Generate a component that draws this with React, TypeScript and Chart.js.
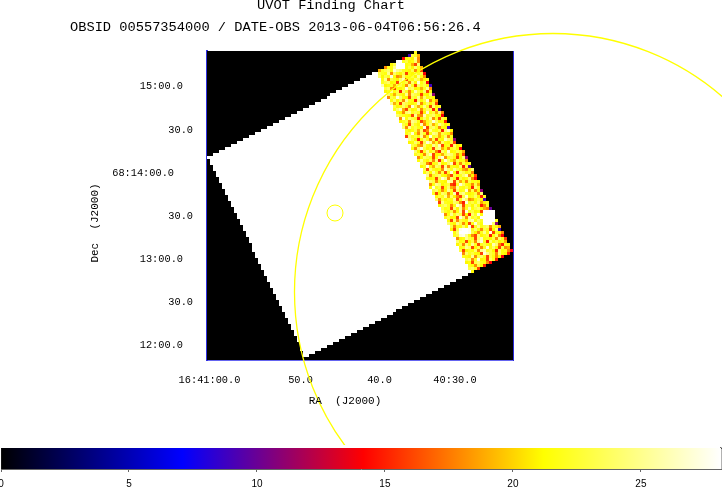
import React, { useEffect, useRef } from "react";
import { Chart, registerables } from "chart.js";

Chart.register(...registerables);

// ---- data ----
const titleLine1 = "UVOT Finding Chart";
const titleLine2 = "OBSID 00557354000 / DATE-OBS 2013-06-04T06:56:26.4";
const raTitle = "RA  (J2000)";
const decTitle = "Dec  (J2000)";

const nCols = 102;
const nRows = 103;

const raLabels = ["16:41:00.0", "50.0", "40.0", "40:30.0"];
const raTickCols = [0.75, 31, 57.5, 83];
const decLabels = ["15:00.0", "30.0", "68:14:00.0", "30.0", "13:00.0", "30.0", "12:00.0"];
const decTickRows = [11.67, 26.33, 40.67, 55, 69.33, 83.67, 98];

const circleCols = [42.67, 115.33];
const circleRows = [54, 80.33];

const colorbarTicks = [0, 5, 10, 15, 20, 25];
const colorbarMax = 28.13;
const colorStopValues = [0, 7.08, 14.15, 21.2, 28.13];
const colorStopRgb = [
  [0, 0, 0],
  [0, 0, 255],
  [255, 0, 0],
  [255, 255, 0],
  [255, 255, 255],
];

// Saturated exposure region, one entry per image row starting at row 7
const whiteFirstRow = 7;
const whiteStart = [
  55, 53, 51, 49, 47, 45, 43, 41, 40, 38, 36, 34, 32, 30, 28, 26, 24, 22, 20, 18, 16, 14, 12, 10, 8, 6, 4, 2,
  0, 1, 1, 2, 2, 3, 3, 4, 4, 5, 5, 6, 6, 7, 7, 8, 8, 9, 9, 10, 10, 11, 11, 12, 12, 13, 13, 14, 14, 15, 15, 15,
  16, 16, 17, 17, 18, 18, 19, 19, 20, 20, 21, 21, 22, 22, 23, 23, 24, 24, 25, 25, 26, 26, 27, 27, 28, 28, 29, 29,
  30, 30, 31, 31, 31, 32, 32,
];
const whiteEnd = [
  57, 57, 58, 58, 58, 59, 59, 60, 60, 61, 61, 62, 62, 63, 63, 64, 64, 65, 65, 66, 66, 66, 67, 67, 68, 68, 69, 69,
  70, 70, 71, 71, 72, 72, 73, 73, 74, 74, 74, 75, 75, 76, 76, 77, 77, 78, 78, 79, 79, 80, 80, 81, 81, 82, 82, 83,
  83, 83, 84, 84, 85, 85, 86, 86, 87, 87, 88,
  87, 85, 83, 81, 79, 77, 75, 73, 71, 69, 67, 65, 63, 62, 60, 58, 56, 54, 52, 50, 48, 46, 44, 42, 40, 38, 36, 34,
];

// Exposed region: first columns of rows 0..6, later rows start where the saturated part ends
const speckleTopStart = [69, 67, 65, 63, 61, 59, 57];
// Counts for each level code used in speckleRows
const levelCounts: Record<string, number> = {
  "9": 9, a: 10, b: 11, e: 14, f: 15, g: 16, h: 18, i: 19, j: 21, k: 22, l: 21.5,
  m: 23, n: 24, o: 25, p: 26, q: 27, r: 27.5, s: 28.13,
};
const speckleRows = [
  "k",
  "9mki",
  "elkjoh",
  "sskmjlnh",
  "jmssslkign",
  "hklossslmjnki",
  "ikmnlqonkljmhlg",
  "mklohnkjmgljnkme",
  "njmkqlhinlkmjolh",
  "lohmkjnpgklnmijk",
  "kmnjlgokmhnjqlme",
  "pjlkinmlhokgnkmj9",
  "mnhgljkqmnjlikoh",
  "jkolmfnkhlpmjngl",
  "nlimkjohnmkgljnb",
  "hmkqnljgmkoinlkj",
  "lnjmhoklfnjmqhli",
  "oikgnmljkphlnjmg",
  "mjlnkhqmilokgnjk",
  "knpigmjlohknmfla",
  "ljhnokmkgjqlminh",
  "nmkljgoihpkmnlje",
  "hqlnmkfjnlohkgml",
  "jkmhonlgikmqnjlf",
  "mlgnkjphlnikomjk",
  "nhokmljqgmnkhlj9",
  "kjlminghoklmfnpj",
  "lmqjhnkglonimkjh",
  "gnkmlohjqkmilnhk",
  "omjflnkhmgljpnkb",
  "jlnkgmqoikhnljmg",
  "mkihnljompglkfnjl",
  "lhnqmjkgnoilhkmje",
  "njgkolmhfnkqjlmki",
  "kmlhnpgjlimonkhjg",
  "hjnmkgloqhkmlgjnb",
  "lokjmhnfkqnjimlkh",
  "nmhglkojlnpgkhmjk",
  "jkqlinmgohkljnfma",
  "mgnkjlhpnkomlihjn",
  "lnjokhmgkqlfnmjkh",
  "ohkmnljigmlknphjg",
  "kjlgmqohnkfmjlnhe",
  "nmhkljpognikhmlkj",
  "hlonjkmgfkqnljhmi",
  "jqkmglnihoklmjfnk",
  "mnlhjokgnlkqimhjb",
  "kgjnmhlpfnokjlmhn",
  "lmkoinjhgmqlknjfk",
  "nhmjklogkpnhilmj9",
  "gokljnmhfqkmlnijk",
  "jmnkhlqogkmjnlfhk",
  "mlkgnjohkplmnjiha",
  "nkjmhlogqkmjlgssss",
  "hloknmgjfnkqlssss",
  "kmjlgqnhokmjsssss",
  "lgnhmkjoplnkssssk",
  "nkjomhlgkqmlsssnb",
  "mhklnjqgkolmnhkji",
  "jgmrssrknlhmkgjn9",
  "lnsssrmjhkolqgkjh",
  "kmqrolhgnjkmflnhe",
  "hjlomkgnplkjmhnkg",
  "nlkgjmhoqkfnlmjki",
  "jmhnlokgkmljpnhfkl",
  "lkongjmhkqlnjgmhi",
  "mgjklnhopkmjfnlkhe",
  "hnkmljgqomkhnljf",
  "kljohmnkgmlhje",
  "mnhkqjlgnkf",
  "jlgmnklhe",
  "klhmjf",
  "mnkg",
  "j",
];

// ---- layout and style of the text ----
const FRAME = { left: 207, top: 51, right: 513, bottom: 360 };
const MAIN_H = 445;
const BAR_H = 43;
const MONO = "'Liberation Mono', monospace";
const raLabelCenters = [209.5, 300.5, 379.5, 455];
const raLabelY = 380;
const decLabelRights = [183, 193, 174, 193, 183, 193, 183];

// ---- helpers ----
function colorFor(v: number): string {
  const t = Math.min(v, colorbarMax);
  let i = 0;
  while (i < colorStopValues.length - 2 && t > colorStopValues[i + 1]) i++;
  const f = (t - colorStopValues[i]) / (colorStopValues[i + 1] - colorStopValues[i]);
  const a = colorStopRgb[i];
  const b = colorStopRgb[i + 1];
  const c = a.map((x, k) => Math.round(x + (b[k] - x) * f));
  return `rgb(${c[0]},${c[1]},${c[2]})`;
}

function buildImage(): number[][] {
  const img: number[][] = [];
  for (let r = 0; r < nRows; r++) img.push(new Array(nCols).fill(0));
  whiteStart.forEach((s, i) => {
    for (let c = s; c < whiteEnd[i]; c++) img[i + whiteFirstRow][c] = colorbarMax;
  });
  speckleRows.forEach((row, r) => {
    const start = r < whiteFirstRow ? speckleTopStart[r] : whiteEnd[r - whiteFirstRow];
    for (let i = 0; i < row.length; i++) {
      if (start + i < nCols) img[r][start + i] = levelCounts[row[i]];
    }
  });
  return img;
}

const fitTo = (size: number) => (s: any) => {
  if (s.isHorizontal()) s.height = size;
  else s.width = size;
  s.paddingLeft = s.paddingRight = s.paddingTop = s.paddingBottom = 0;
};

const frameAxis = (position: string, min: number, max: number, color: string, width: number, size: number) => ({
  type: "linear",
  position,
  min,
  max,
  afterFit: fitTo(size),
  ticks: { display: false },
  grid: { display: false, drawTicks: false },
  border: { display: true, color, width },
});

const textPlugin = {
  id: "findingChartText",
  beforeDraw(chart: any) {
    const xs = chart.scales.x;
    xs.getLabelItems(chart.chartArea).forEach((item: any, i: number) => {
      item.options.translation = [raLabelCenters[i], raLabelY];
      item.options.textAlign = "center";
      item.options.textBaseline = "middle";
      item.textOffset = 0;
    });
    const ys = chart.scales.y;
    ys.getLabelItems(chart.chartArea).forEach((item: any, i: number) => {
      item.options.translation = [decLabelRights[i], item.options.translation[1]];
      item.options.textAlign = "right";
    });
  },
  afterDraw(chart: any) {
    const ctx = chart.ctx;
    ctx.save();
    ctx.fillStyle = "#000";
    ctx.textBaseline = "middle";
    ctx.textAlign = "center";
    ctx.font = `13.7px ${MONO}`;
    ctx.fillText(titleLine1, 331, 5);
    ctx.textAlign = "left";
    ctx.fillText(titleLine2, 70, 27);
    ctx.textAlign = "center";
    ctx.font = `11px ${MONO}`;
    ctx.fillText(raTitle, 345, 401);
    ctx.translate(95, 223);
    ctx.rotate(-Math.PI / 2);
    ctx.fillText(decTitle, 0, 0);
    ctx.restore();
  },
};

export default function App() {
  const mainRef = useRef<HTMLCanvasElement>(null);
  const barRef = useRef<HTMLCanvasElement>(null);

  useEffect(() => {
    document.body.style.margin = "0";
    const img = buildImage();
    const cellPts: { x: number; y: number }[] = [];
    const cellColors: string[] = [];
    img.forEach((row, r) =>
      row.forEach((v, c) => {
        cellPts.push({ x: c + 0.5, y: r + 0.5 });
        cellColors.push(colorFor(v));
      })
    );

    const main = new Chart(mainRef.current!, {
      type: "scatter",
      data: {
        datasets: [
          {
            label: "Position error",
            data: [{ x: circleCols[0], y: circleRows[0] }],
            pointRadius: 8,
            pointStyle: "circle",
            backgroundColor: "rgba(0,0,0,0)",
            borderColor: "#ffff00",
            borderWidth: 1,
            clip: false,
          },
          {
            label: "Field of view",
            data: [{ x: circleCols[1], y: circleRows[1] }],
            pointRadius: 258.5,
            pointStyle: "circle",
            backgroundColor: "rgba(0,0,0,0)",
            borderColor: "#ffff00",
            borderWidth: 1.3,
            clip: false,
          },
          {
            label: "Image",
            data: cellPts,
            pointStyle: "rect",
            pointRadius: 2.14,
            pointBorderWidth: 0,
            borderWidth: 0,
            backgroundColor: cellColors,
          },
        ],
      } as any,
      options: {
        responsive: false,
        animation: false,
        events: [],
        layout: { padding: 0, autoPadding: false },
        plugins: { legend: { display: false }, tooltip: { enabled: false }, title: { display: false } },
        scales: {
          x: {
            type: "linear",
            position: "bottom",
            min: 0,
            max: nCols,
            afterFit: fitTo(MAIN_H - FRAME.bottom),
            afterBuildTicks: (s: any) => {
              s.ticks = raTickCols.map((value) => ({ value }));
            },
            ticks: {
              autoSkip: false,
              maxRotation: 0,
              minRotation: 0,
              padding: 0,
              font: { family: MONO, size: 10.3 },
              color: "#000",
              callback: (_v: any, i: number) => raLabels[i],
            },
            grid: { display: false, drawTicks: false },
            border: { display: true, color: "#6464f0", width: 2 },
          },
          y: {
            type: "linear",
            position: "left",
            min: 0,
            max: nRows,
            reverse: true,
            afterFit: fitTo(FRAME.left),
            afterBuildTicks: (s: any) => {
              s.ticks = decTickRows.map((value) => ({ value }));
            },
            ticks: {
              autoSkip: false,
              maxRotation: 0,
              minRotation: 0,
              padding: 0,
              font: { family: MONO, size: 10.3 },
              color: "#000",
              callback: (_v: any, i: number) => decLabels[i],
            },
            grid: { display: false, drawTicks: false },
            border: { display: true, color: "#3030e0", width: 2 },
          },
          xTop: frameAxis("top", 0, nCols, "#2a2ad8", 1, FRAME.top),
          yRight: frameAxis("right", 0, nRows, "#2a2ad8", 1, 722 - FRAME.right),
        },
      } as any,
      plugins: [textPlugin],
    });

    const bar = new Chart(barRef.current!, {
      type: "bar",
      data: {
        labels: [""],
        datasets: [
          {
            data: [[0, colorbarMax]],
            barPercentage: 1,
            categoryPercentage: 1,
            borderWidth: 0,
            backgroundColor: (ctx: any) => {
              const area = ctx.chart.chartArea;
              if (!area) return "#000";
              const g = ctx.chart.ctx.createLinearGradient(area.left, 0, area.right, 0);
              colorStopValues.forEach((v) => g.addColorStop(v / colorbarMax, colorFor(v)));
              return g;
            },
          },
        ],
      } as any,
      options: {
        indexAxis: "y",
        responsive: false,
        animation: false,
        events: [],
        layout: { padding: { left: 1, right: 1, top: 3, bottom: 0 } },
        plugins: { legend: { display: false }, tooltip: { enabled: false } },
        scales: {
          x: {
            type: "linear",
            min: 0,
            max: colorbarMax,
            afterFit: (s: any) => {
              s.height = 19;
              s.paddingLeft = s.paddingRight = 0;
            },
            afterBuildTicks: (s: any) => {
              s.ticks = colorbarTicks.map((value) => ({ value }));
            },
            ticks: {
              maxRotation: 0,
              minRotation: 0,
              autoSkip: false,
              padding: 6,
              color: "#000",
              font: { family: "'Liberation Sans', sans-serif", size: 10 },
            },
            grid: { display: true, drawOnChartArea: false, drawTicks: true, tickLength: 3, color: "#666" },
            border: { display: true, color: "#666", width: 1 },
          },
          y: {
            type: "category",
            afterFit: fitTo(0),
            ticks: { display: false },
            grid: { display: false, drawTicks: false },
            border: { display: true, color: "#666", width: 1 },
          },
          yRight: frameAxis("right", 0, 1, "#666", 1.5, 0),
          xTop: frameAxis("top", 0, 1, "#444", 1, 0),
        },
      } as any,
    });

    return () => {
      main.destroy();
      bar.destroy();
    };
  }, []);

  return (
    <div style={{ width: 722, height: MAIN_H + BAR_H, background: "#fff" }}>
      <canvas ref={mainRef} width={722} height={MAIN_H} style={{ display: "block" }} />
      <canvas ref={barRef} width={722} height={BAR_H} style={{ display: "block" }} />
    </div>
  );
}
